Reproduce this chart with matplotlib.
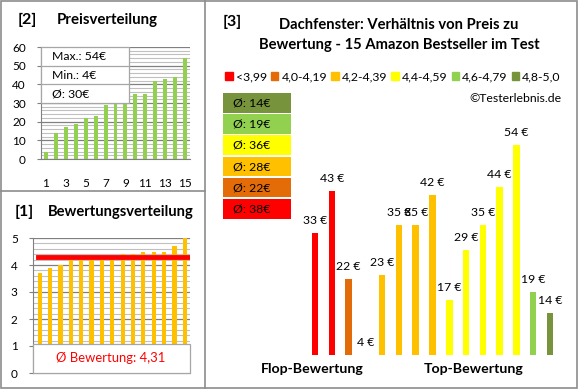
import numpy as np
import matplotlib
matplotlib.use('Agg')
import matplotlib.pyplot as plt
from matplotlib.patches import Rectangle, Patch
from matplotlib.lines import Line2D

plt.rcParams['font.family'] = ['Lato', 'DejaVu Sans']

# data, in the order of chart [3] (sorted by rating)
ratings = [3.7, 3.9, 4.0, 4.2, 4.2, 4.2, 4.2, 4.3, 4.4, 4.4, 4.5, 4.5, 4.5, 4.7, 5.0]
prices = [33, 43, 22, 4, 23, 35, 35, 42, 17, 29, 35, 44, 54, 19, 14]
cat_labels = ['<3,99', '4,0-4,19', '4,2-4,39', '4,4-4,59', '4,6-4,79', '4,8-5,0']
cat_edges = [4.0, 4.2, 4.4, 4.6, 4.8]
cat_colors = ['#FF0000', '#E36C09', '#FFC000', '#FFFF00', '#92D050', '#77933C']

W, H = 580, 390


def axbox(x0, y0, x1, y1):
    return [x0 / W, 1 - y1 / H, (x1 - x0) / W, (y1 - y0) / H]


def rect(x0, y0, x1, y1, **kw):
    fig.add_artist(Rectangle((x0 / W, 1 - y1 / H), (x1 - x0) / W, (y1 - y0) / H,
                             transform=fig.transFigure, **kw))


def line(x0, y0, x1, y1, **kw):
    fig.add_artist(Line2D([x0 / W, x1 / W], [1 - y0 / H, 1 - y1 / H],
                          transform=fig.transFigure, **kw))


def txt(x, y, s, **kw):
    fig.text(x / W, 1 - y / H, s, **kw)


fig = plt.figure(figsize=(5.8, 3.9), dpi=100)

# frames
frame = '#8c8c8c'
rect(1, 1, 577, 388, fill=False, edgecolor=frame, lw=1.2)
line(205, 1, 205, 388, color=frame, lw=1.2)
line(1, 191, 205, 191, color=frame, lw=1.2)

idx = np.arange(1, 16)

# [2] Preisverteilung
ax1 = fig.add_axes(axbox(41, 47, 190, 159))
ax1.bar(idx, sorted(prices), width=0.4, color='#92D050', zorder=2)
ax1.set_xlim(0.5, 15.5)
ax1.set_ylim(0, 60)
ax1.set_yticks(range(0, 61, 10))
ax1.set_yticks(range(0, 61, 2), minor=True)
ax1.set_xticks(idx[::2])
ax1.grid(axis='y', which='major', color='#808080', lw=0.9, zorder=0)
ax1.grid(axis='y', which='minor', color='#c0c0c0', lw=0.8, zorder=0)
ax1.tick_params(axis='x', length=0, pad=14, labelsize=8.5)
ax1.tick_params(axis='y', which='major', length=3, color='#808080', labelsize=8.5, pad=8)
ax1.tick_params(axis='y', which='minor', length=0)
for s in ['top', 'right']:
    ax1.spines[s].set_visible(False)
ax1.spines['left'].set_color('#808080')
ax1.spines['bottom'].set_color('#808080')

txt(18, 20, '[2]', fontsize=11.5, fontweight='bold', va='center')
txt(57, 20, 'Preisverteilung', fontsize=10.8, fontweight='bold', va='center')

rect(41, 47, 129, 103, facecolor='white', edgecolor='#a6a6a6', lw=0.9, zorder=3)
line(41, 65.7, 129, 65.7, color='#a6a6a6', lw=0.9, zorder=4)
line(41, 84.3, 129, 84.3, color='#a6a6a6', lw=0.9, zorder=4)
txt(52, 57, 'Max.: %d€' % max(prices), fontsize=8.8, va='center', zorder=5)
txt(52, 75.5, 'Min.: %d€' % min(prices), fontsize=8.8, va='center', zorder=5)
txt(52, 94, 'Ø: %d€' % round(np.mean(prices)), fontsize=8.8, va='center', zorder=5)

# [1] Bewertungsverteilung
ax2 = fig.add_axes(axbox(33, 238, 190, 373))
ax2.bar(idx, sorted(ratings), width=0.4, color='#FFC000', zorder=2)
avg = np.mean(ratings)
ax2.axhline(avg, xmin=0.03, xmax=0.985, color='#FF0000', lw=3.5, zorder=3)
ax2.set_xlim(0.35, 15.5)
ax2.set_ylim(0, 5)
ax2.set_yticks(range(0, 6))
ax2.set_yticks(np.arange(0, 5.01, 0.2), minor=True)
ax2.set_xticks([])
ax2.grid(axis='y', which='major', color='#808080', lw=0.9, zorder=0)
ax2.grid(axis='y', which='minor', color='#c0c0c0', lw=0.8, zorder=0)
ax2.tick_params(axis='y', which='major', length=3, color='#808080', labelsize=8.5, pad=8)
ax2.tick_params(axis='y', which='minor', length=0)
for s in ['top', 'right']:
    ax2.spines[s].set_visible(False)
ax2.spines['left'].set_color('#808080')
ax2.spines['bottom'].set_color('#808080')

txt(15, 212, '[1]', fontsize=11.5, fontweight='bold', va='center')
txt(48, 212, 'Bewertungsverteilung', fontsize=10.6, fontweight='bold', va='center')

rect(33, 344, 190, 373, facecolor='white', edgecolor='#a6a6a6', lw=0.9, zorder=3)
txt(111, 358, 'Ø Bewertung: ' + ('%.2f' % avg).replace('.', ','), fontsize=9.4,
    color='#FF0000', ha='center', va='center', zorder=5)

# [3] Preis zu Bewertung
cat_idx = np.digitize(ratings, cat_edges)
ax3 = fig.add_axes(axbox(306.6, 119.8, 558.4, 355))
ax3.bar(idx, prices, width=0.39, color=[cat_colors[c] for c in cat_idx])
ax3.set_xlim(0.5, 15.5)
ax3.set_ylim(4, 60)
ax3.axis('off')
for i, p in zip(idx, prices):
    ax3.annotate('%d €' % p, (i, max(p, 4)), xytext=(0, 9), textcoords='offset points',
                 ha='center', va='center', fontsize=8.8, annotation_clip=False)

txt(223, 22, '[3]', fontsize=11.5, fontweight='bold', va='center')
txt(399, 25, 'Dachfenster: Verhältnis von Preis zu', fontsize=10.6, fontweight='bold',
    ha='center', va='center')
txt(399, 45, 'Bewertung - 15 Amazon Bestseller im Test', fontsize=10.6, fontweight='bold',
    ha='center', va='center')

handles = [Patch(color=c) for c in cat_colors]
fig.legend(handles, cat_labels, ncol=6, loc='center', bbox_to_anchor=(393 / W, 1 - 77 / H),
           frameon=False, fontsize=8.8, handlelength=0.6, handleheight=0.6,
           handletextpad=0.25, columnspacing=0.35, borderpad=0)
txt(562, 98, '©Testerlebnis.de', fontsize=8.8, ha='right', va='center')

# average price per rating class, boxes from top (best) to bottom (worst)
cat_avg = [round(np.mean([p for p, c in zip(prices, cat_idx) if c == k])) for k in range(6)]
for n, k in enumerate(range(5, -1, -1)):
    y0 = 93 + n * 21.2
    rect(223, y0, 291, y0 + 19.5, facecolor=cat_colors[k], edgecolor='none')
    txt(233, y0 + 10, 'Ø: %d€' % cat_avg[k], fontsize=8.8, va='center')

txt(312, 369, 'Flop-Bewertung', fontsize=10.2, fontweight='bold', ha='center', va='center')
txt(474, 369, 'Top-Bewertung', fontsize=10.2, fontweight='bold', ha='center', va='center')

fig.savefig('out.png', dpi=100)
